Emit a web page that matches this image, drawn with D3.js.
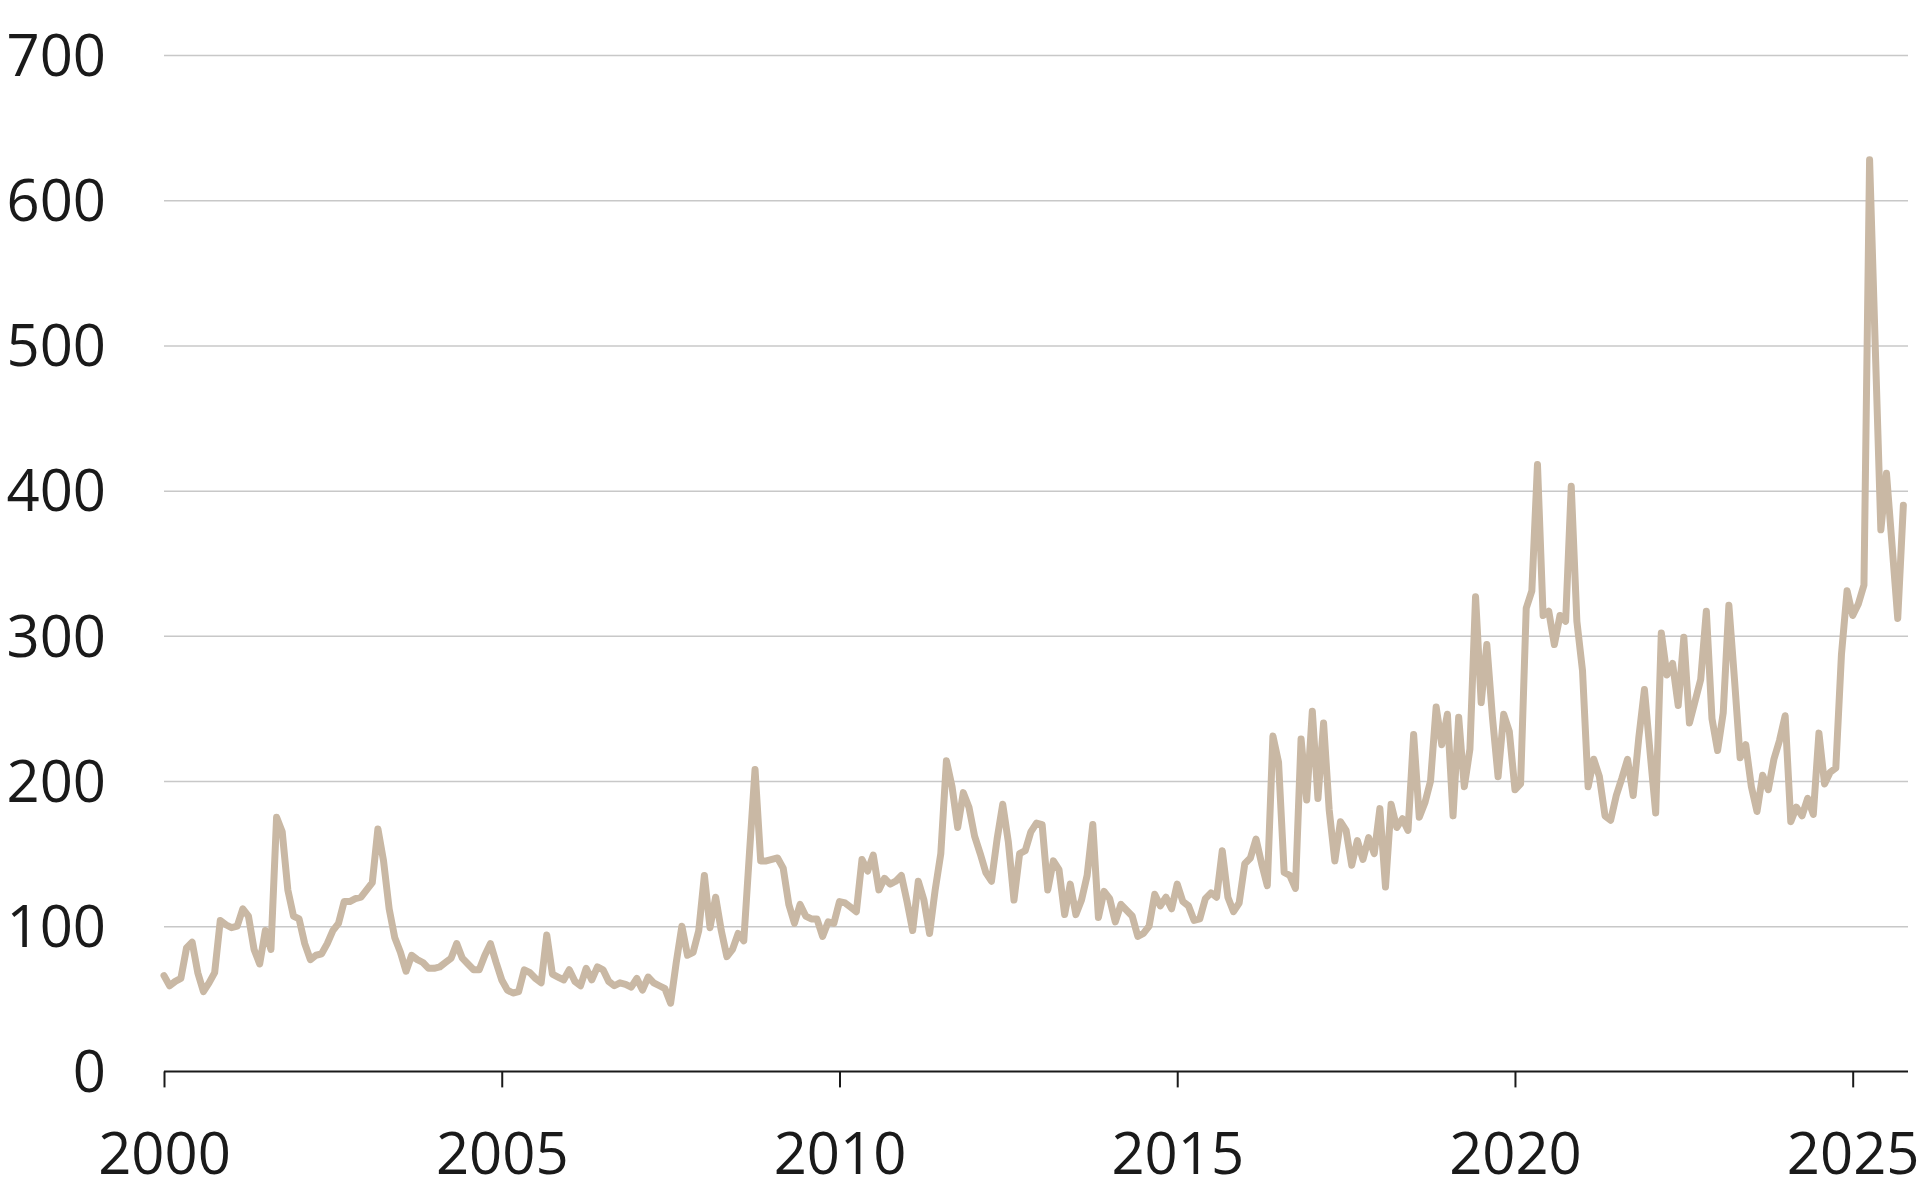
<!DOCTYPE html>
<html><head><meta charset="utf-8">
<script src="https://cdn.jsdelivr.net/npm/d3@7"></script>
<style>html,body{margin:0;background:#fff;} svg{display:block;}</style>
</head><body>
<script>
// Monthly series, January 2000 to October 2025
const startYear = 2000;
const values = [
  66, 59, 62, 64, 85, 89, 68, 55, 61, 68, 104, 101,      // 2000
  99, 100, 112, 107, 84, 74, 97, 84, 175, 165, 125, 107, // 2001
  105, 88, 77, 80, 81, 88, 97, 102, 117, 117, 119, 120,  // 2002
  125, 130, 167, 145, 112, 92, 82, 69, 80, 77, 75, 71,   // 2003
  71, 72, 75, 78, 88, 78, 74, 70, 70, 80, 88, 75,        // 2004
  63, 56, 54, 55, 70, 68, 64, 61, 94, 67, 65, 63,        // 2005
  70, 62, 59, 71, 63, 72, 70, 62, 59, 61, 60, 58,        // 2006
  64, 56, 65, 61, 59, 57, 47, 75, 100, 80, 82, 97,       // 2007
  135, 99, 120, 97, 79, 84, 95, 90, 150, 208, 145, 145,  // 2008
  146, 147, 140, 115, 102, 115, 107, 105, 105, 93, 103, 102, // 2009
  117, 116, 113, 110, 146, 138, 149, 125, 133, 129, 131, 135, // 2010
  117, 97, 131, 118, 95, 125, 150, 214, 196, 168, 192, 182,   // 2011
  162, 150, 137, 131, 160, 184, 158, 118, 150, 152, 165, 171, // 2012
  170, 125, 145, 139, 108, 129, 108, 118, 135, 170, 106, 124, // 2013
  119, 103, 115, 111, 107, 93, 95, 100, 122, 114, 120, 112,   // 2014
  129, 117, 114, 104, 105, 119, 123, 120, 152, 120, 110, 116, // 2015
  143, 147, 160, 143, 128, 231, 213, 137, 135, 126, 229, 187, // 2016
  248, 188, 240, 180, 145, 172, 166, 142, 159, 146, 161, 150, // 2017
  181, 127, 184, 168, 174, 166, 232, 175, 185, 200, 251, 225, // 2018
  246, 176, 244, 196, 222, 327, 254, 294, 244, 203, 246, 234, // 2019
  194, 198, 319, 331, 418, 314, 317, 294, 314, 310, 403, 310, // 2020
  276, 196, 215, 203, 176, 173, 190, 202, 215, 190, 230, 263, // 2021
  220, 178, 302, 273, 281, 252, 299, 240, 255, 270, 317, 243, // 2022
  221, 247, 321, 270, 216, 225, 196, 179, 204, 194, 215, 228, // 2023
  245, 172, 182, 176, 188, 177, 233, 198, 206, 209, 287, 331, // 2024
  314, 322, 335, 628, 500, 373, 412, 362, 312, 390            // 2025
];
const yTicks = [0, 100, 200, 300, 400, 500, 600, 700];
const xTicks = [2000, 2005, 2010, 2015, 2020, 2025];

const W = 1920, H = 1200;
const plotLeft = 164, plotRight = 1908;
const font = "'Open Sans', 'Noto Sans', sans-serif";

const svg = d3.select('body').append('svg').attr('width', W).attr('height', H);
const x = d3.scaleLinear().domain([2000, 2025]).range([164, 1852.7]);
const y = d3.scaleLinear().domain([0, 700]).range([1071.4, 55.1]);

// Y axis with gridlines
const gy = svg.append('g').attr('transform', `translate(${plotLeft},0)`)
  .call(d3.axisLeft(y).tickValues(yTicks).tickSize(-(plotRight - plotLeft)).tickPadding(58));
gy.select('.domain').remove();
gy.selectAll('.tick line').attr('stroke', '#c8c8c8').attr('stroke-width', 1.5)
  .filter(d => d === 0).remove();
gy.selectAll('.tick text').attr('font-family', font).attr('font-size', 58)
  .attr('fill', '#1a1a1a').attr('dy', '0.35em');

// X axis
const gx = svg.append('g').attr('transform', `translate(0,${y(0)})`)
  .call(d3.axisBottom(x).tickValues(xTicks).tickFormat(d3.format('d')).tickSize(16).tickPadding(45));
gx.select('.domain').remove();
gx.selectAll('.tick line').attr('stroke', '#1a1a1a').attr('stroke-width', 2);
gx.selectAll('.tick text').attr('font-family', font).attr('font-size', 58).attr('fill', '#1a1a1a');
gx.append('line').attr('x1', plotLeft).attr('x2', plotRight).attr('y1', 0).attr('y2', 0)
  .attr('stroke', '#1a1a1a').attr('stroke-width', 2);

// Series line
const line = d3.line().x((d, i) => x(startYear + i / 12)).y(d => y(d));
svg.append('path').datum(values).attr('d', line)
  .attr('fill', 'none').attr('stroke', '#c9b8a4').attr('stroke-width', 7)
  .attr('stroke-linejoin', 'round').attr('stroke-linecap', 'round');
</script>
</body></html>
